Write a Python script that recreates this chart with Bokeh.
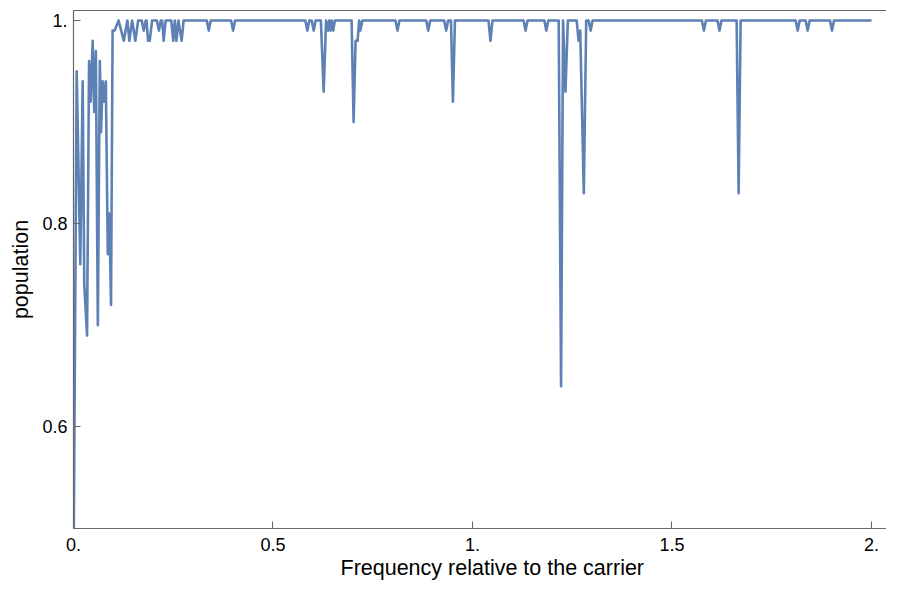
from bokeh.plotting import figure
from bokeh.models import FixedTicker, LinearAxis, Range1d, Title
from bokeh.embed import file_html
from bokeh.resources import INLINE

# Polyline vertices (frequency relative to carrier, population)
freq = [
    0.000, 0.008, 0.017, 0.023, 0.027, 0.034, 0.039, 0.043, 0.048, 0.052,
    0.056, 0.061, 0.066, 0.069, 0.073, 0.077, 0.081, 0.086, 0.090, 0.094,
    0.098, 0.103, 0.113, 0.126, 0.135, 0.140, 0.147, 0.155, 0.162, 0.171,
    0.176, 0.181, 0.183, 0.187, 0.191, 0.197, 0.209, 0.214, 0.219, 0.222,
    0.226, 0.231, 0.245, 0.250, 0.254, 0.258, 0.263, 0.271, 0.276,
    0.334, 0.339, 0.344,
    0.395, 0.400, 0.405,
    0.581, 0.586, 0.591, 0.597, 0.602, 0.607,
    0.620, 0.627, 0.633, 0.638, 0.641, 0.644, 0.647, 0.651, 0.655,
    0.697, 0.702, 0.707, 0.712, 0.716, 0.719, 0.724,
    0.807, 0.812, 0.817,
    0.884, 0.889, 0.894,
    0.929, 0.934, 0.939, 0.946, 0.951, 0.956,
    1.040, 1.045, 1.050,
    1.128, 1.133, 1.138,
    1.180, 1.185, 1.190,
    1.216, 1.222, 1.227, 1.233, 1.239,
    1.261, 1.266, 1.270, 1.279, 1.285, 1.291, 1.296, 1.301,
    1.575, 1.580, 1.585,
    1.614, 1.619, 1.624,
    1.662, 1.667, 1.672,
    1.810, 1.815, 1.820, 1.835, 1.840, 1.845,
    1.896, 1.901, 1.906,
    2.000,
]
population = [
    0.45, 0.95, 0.76, 0.94, 0.74, 0.69, 0.96, 0.92, 0.98, 0.91,
    0.97, 0.70, 0.96, 0.89, 0.94, 0.92, 0.94, 0.77, 0.81, 0.72,
    0.99, 0.99, 1.00, 0.98, 1.00, 0.98, 1.00, 0.98, 1.00, 1.00,
    0.99, 1.00, 1.00, 0.98, 0.98, 1.00, 1.00, 0.99, 1.00, 1.00,
    0.98, 1.00, 1.00, 0.98, 1.00, 0.98, 1.00, 0.98, 1.00,
    1.00, 0.99, 1.00,
    1.00, 0.99, 1.00,
    1.00, 0.99, 1.00, 1.00, 0.99, 1.00,
    1.00, 0.93, 1.00, 0.99, 1.00, 0.99, 1.00, 0.99, 1.00,
    1.00, 0.90, 0.98, 0.98, 1.00, 0.99, 1.00,
    1.00, 0.99, 1.00,
    1.00, 0.99, 1.00,
    1.00, 0.99, 1.00, 1.00, 0.92, 1.00,
    1.00, 0.98, 1.00,
    1.00, 0.99, 1.00,
    1.00, 0.99, 1.00,
    1.00, 0.64, 1.00, 0.93, 1.00,
    1.00, 0.98, 0.99, 0.83, 1.00, 1.00, 0.99, 1.00,
    1.00, 0.99, 1.00,
    1.00, 0.99, 1.00,
    1.00, 0.83, 1.00,
    1.00, 0.99, 1.00, 1.00, 0.99, 1.00,
    1.00, 0.99, 1.00,
    1.00,
]

x_ticks = [0, 0.5, 1, 1.5, 2]
x_tick_labels = ["0.", "0.5", "1.", "1.5", "2."]
y_ticks = [0.6, 0.8, 1.0]
y_tick_labels = ["0.6", "0.8", "1."]
x_title = "Frequency relative to the carrier"
y_title = "population"

FONT = "Liberation Sans"
FRAME = "#666666"

p = figure(width=886, height=584, output_backend="svg", toolbar_location=None,
           x_range=Range1d(0, 2.0376), y_range=Range1d(0.5, 1.0098),
           y_axis_label=y_title,
           min_border_left=73, min_border_right=0, min_border_top=10, min_border_bottom=56)
p.grid.visible = False
p.outline_line_color = None
p.background_fill_color = "white"

p.line(freq, population, line_color="#5E81B5", line_width=2.6, line_join="round")

for ax, ticks, labels in ((p.xaxis[0], x_ticks, x_tick_labels), (p.yaxis[0], y_ticks, y_tick_labels)):
    ax.ticker = FixedTicker(ticks=ticks)
    ax.major_label_overrides = {t: l for t, l in zip(ticks, labels)}
    ax.axis_line_color = FRAME
    ax.axis_line_width = 1.2
    ax.major_tick_line_color = FRAME
    ax.major_tick_in = 7
    ax.major_tick_out = 0
    ax.minor_tick_line_color = None
    ax.major_label_text_font = FONT
    ax.major_label_text_font_size = "18px"
    ax.major_label_text_color = "black"
    ax.axis_label_text_font = FONT
    ax.axis_label_text_font_size = "21.5px"
    ax.axis_label_text_font_style = "normal"
    ax.axis_label_text_color = "black"

p.xaxis[0].major_label_standoff = 9
p.yaxis[0].major_label_standoff = 6
p.yaxis[0].axis_label_standoff = 6

# x-axis title as a below-title so it can be placed like the reference
p.add_layout(Title(text=x_title, align="left", offset=267, standoff=1,
                   text_font=FONT, text_font_size="21.5px", text_font_style="normal",
                   text_color="black"), "below")

top = LinearAxis(ticker=FixedTicker(ticks=[]), axis_line_color=FRAME, axis_line_width=1.2,
                 major_tick_line_color=None, minor_tick_line_color=None,
                 major_label_standoff=0, major_tick_in=0, major_tick_out=0,
                 major_label_text_font_size="0px")
p.add_layout(top, "above")

open("out.html", "w").write(file_html(p, INLINE))
